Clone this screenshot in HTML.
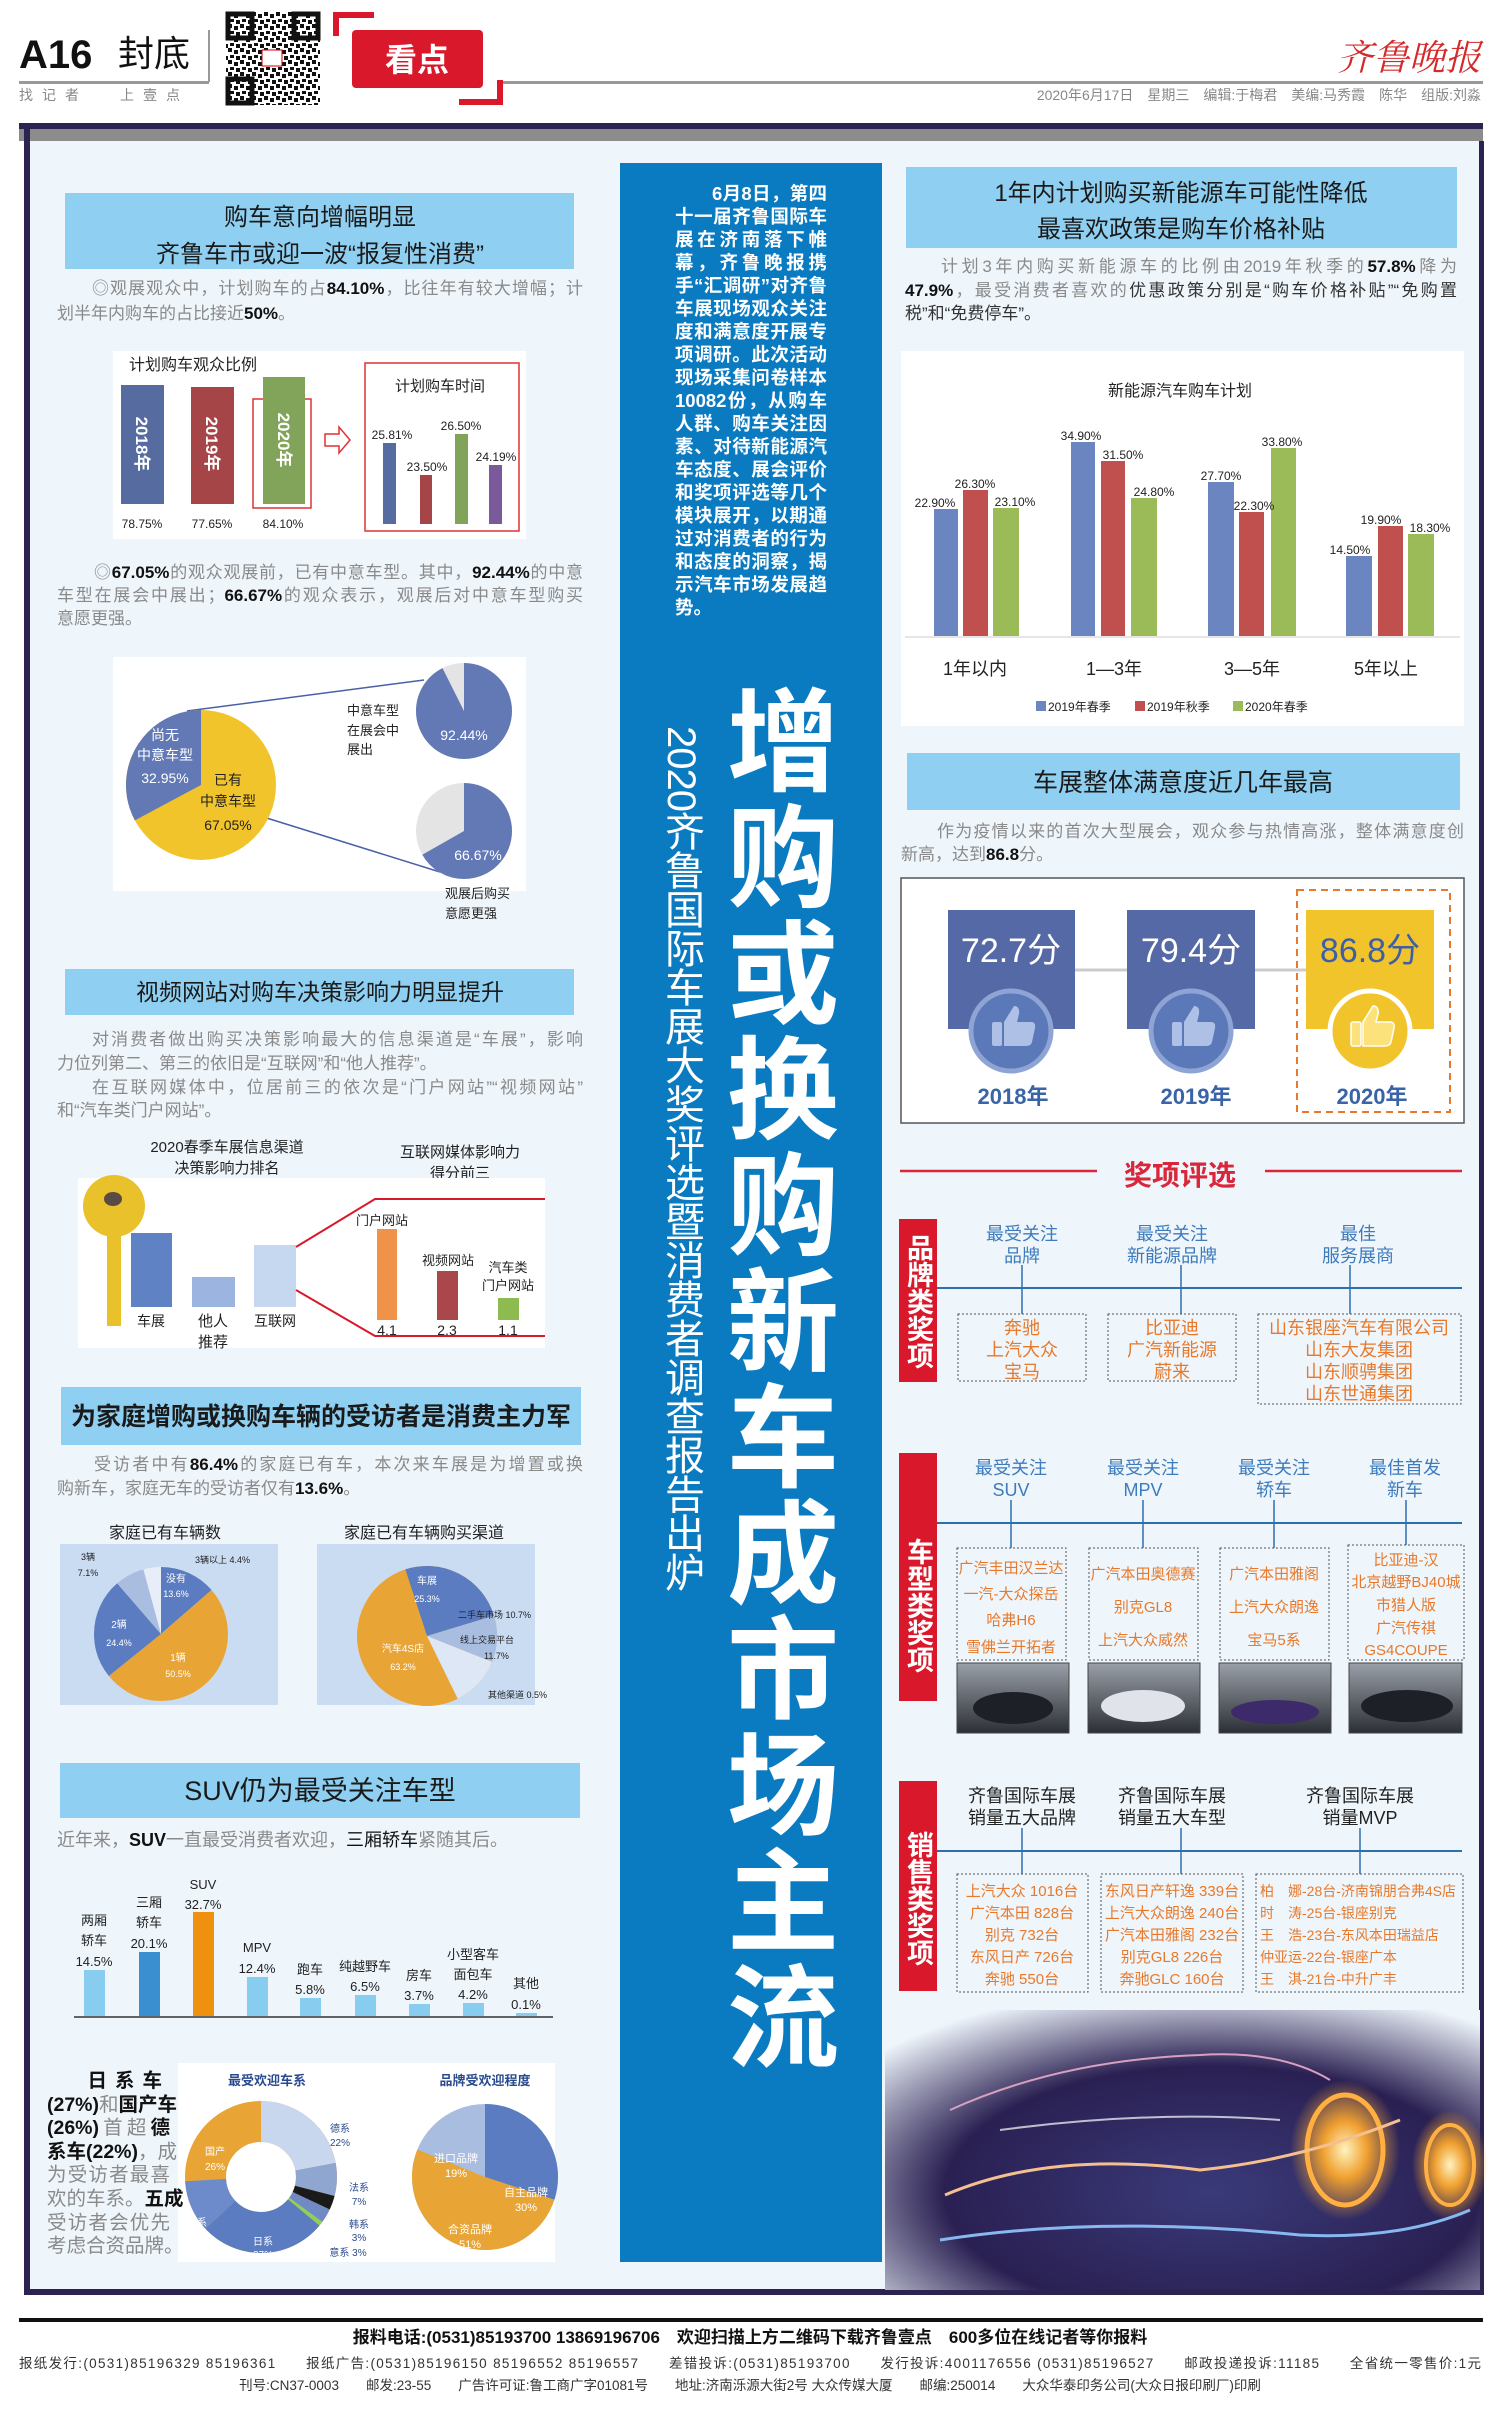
<!DOCTYPE html>
<html><head><meta charset="utf-8">
<style>
*{margin:0;padding:0;box-sizing:border-box}
body{width:1500px;height:2414px;background:#fff;position:relative;overflow:hidden;font-family:"Liberation Sans","Noto Sans CJK SC",sans-serif;}
.a{position:absolute}
.ln{position:absolute;text-align:justify;text-align-last:justify;white-space:nowrap;color:#8a8a8a;font-size:17px;line-height:22px;height:22px;overflow:visible}
.ln b{color:#111;font-weight:bold}
.ll{text-align-last:left}
.vt{position:absolute;writing-mode:vertical-rl;color:#fff;font-weight:bold;text-align:center}
</style></head><body>
<svg class="a" style="left:0;top:0" width="1500" height="2414" viewBox="0 0 1500 2414" font-family="Liberation Sans, Noto Sans CJK SC, sans-serif">
<defs>
<pattern id="qr" width="12" height="12" patternUnits="userSpaceOnUse">
<rect width="12" height="12" fill="#fff"/><rect x="0" y="0" width="4" height="4" fill="#111"/><rect x="6" y="2" width="4" height="4" fill="#111"/><rect x="2" y="7" width="4" height="3" fill="#111"/><rect x="8" y="8" width="4" height="4" fill="#111"/>
</pattern>
<radialGradient id="carbg" cx="0.55" cy="0.65" r="0.75">
<stop offset="0" stop-color="#3a3a7a"/><stop offset="0.6" stop-color="#2a2052"/><stop offset="1" stop-color="#eef5fb"/>
</radialGradient>
<radialGradient id="glow" cx="0.5" cy="0.5" r="0.5">
<stop offset="0" stop-color="#fff3c0"/><stop offset="0.4" stop-color="#f0a030"/><stop offset="1" stop-color="#f0a030" stop-opacity="0"/>
</radialGradient>
<linearGradient id="photo" x1="0" y1="0" x2="0" y2="1"><stop offset="0" stop-color="#9aa0a8"/><stop offset="1" stop-color="#2c2f36"/></linearGradient>
</defs>

<text x="19" y="68" font-size="40" font-weight="bold" fill="#111">A16</text>
<text x="118" y="66" font-size="36" fill="#111">封底</text>
<rect x="19" y="81" width="190" height="3" fill="#999"/>
<rect x="208" y="30" width="2" height="52" fill="#999"/>
<rect x="498" y="81" width="985" height="3" fill="#999"/>
<text x="19" y="100" font-size="14" fill="#888" letter-spacing="9">找记者</text>
<text x="120" y="100" font-size="14" fill="#888" letter-spacing="9">上壹点</text>
<rect x="226" y="12" width="94" height="93" fill="url(#qr)"/>
<rect x="228" y="14" width="24" height="24" fill="none" stroke="#111" stroke-width="5"/>
<rect x="294" y="14" width="24" height="24" fill="none" stroke="#111" stroke-width="5"/>
<rect x="228" y="79" width="24" height="24" fill="none" stroke="#111" stroke-width="5"/>
<rect x="262" y="50" width="20" height="16" fill="#fff" stroke="#c00" stroke-width="1"/>
<polyline points="336,36 336,15 374,15" fill="none" stroke="#d9182b" stroke-width="6"/>
<polyline points="459,102 500,102 500,80" fill="none" stroke="#d9182b" stroke-width="6"/>
<rect x="352" y="30" width="131" height="58" rx="4" fill="#d9182b"/>
<text x="417" y="71" font-size="32" font-weight="bold" fill="#fff" text-anchor="middle">看点</text>
<text x="1481" y="70" font-size="36" font-style="italic" fill="#d42a2a" text-anchor="end" font-family="Noto Serif CJK SC, serif">齐鲁晚报</text>
<text x="1481" y="100" font-size="14" fill="#888" text-anchor="end">2020年6月17日　星期三　编辑:于梅君　美编:马秀霞　陈华　组版:刘淼</text>

<rect x="19" y="123" width="1464" height="6" fill="#2d2350"/>
<rect x="19" y="129" width="1464" height="12" fill="#8c8c8c"/>
<rect x="24" y="141" width="1459" height="2150" fill="#eef5fb"/>
<rect x="24" y="123" width="6" height="2172" fill="#2d2350"/>
<rect x="1479" y="141" width="5" height="2154" fill="#2d2350"/>
<rect x="24" y="2289" width="1460" height="6" fill="#2d2350"/>

<rect x="885" y="2010" width="595" height="280" fill="url(#carbg)"/>
<ellipse cx="1345" cy="2150" rx="55" ry="70" fill="url(#glow)"/>
<ellipse cx="1345" cy="2150" rx="38" ry="55" fill="none" stroke="#ffb040" stroke-width="5"/>
<ellipse cx="1450" cy="2165" rx="38" ry="55" fill="url(#glow)"/>
<ellipse cx="1450" cy="2165" rx="24" ry="40" fill="none" stroke="#ffb040" stroke-width="4"/>
<path d="M945 2195 Q1050 2150 1200 2170 Q1300 2160 1400 2120" fill="none" stroke="#f4c090" stroke-width="3"/>
<path d="M950 2110 Q1060 2060 1200 2055 Q1280 2050 1330 2080" fill="none" stroke="#d8a0c0" stroke-width="2"/>
<path d="M940 2240 Q1100 2215 1300 2235 Q1400 2240 1470 2210" fill="none" stroke="#88b8f0" stroke-width="3"/>
<path d="M1000 2130 Q1150 2110 1280 2120" fill="none" stroke="#ffffff" stroke-width="2" opacity="0.7"/>

<rect x="620" y="163" width="262" height="2099" fill="#0b7bc1"/>

<rect x="65" y="193" width="509" height="76" fill="#8fd0f2"/>
<text x="320" y="225" font-size="24" text-anchor="middle" fill="#1a1a1a">购车意向增幅明显</text>
<text x="320" y="262" font-size="24" text-anchor="middle" fill="#1a1a1a">齐鲁车市或迎一波“报复性消费”</text>

<rect x="113" y="351" width="413" height="188" fill="#fff"/>
<text x="129" y="370" font-size="16" fill="#222">计划购车观众比例</text>
<rect x="121" y="385" width="43" height="119" fill="#566b9f"/>
<rect x="191" y="387" width="43" height="117" fill="#a64548"/>
<rect x="253" y="399" width="58" height="109" fill="none" stroke="#d33" stroke-width="1.5"/>
<rect x="263" y="377" width="42" height="127" fill="#82a35a"/>
<text transform="translate(136,444) rotate(90)" font-size="17" font-weight="bold" fill="#fff" text-anchor="middle">2018年</text>
<text transform="translate(206,444) rotate(90)" font-size="17" font-weight="bold" fill="#fff" text-anchor="middle">2019年</text>
<text transform="translate(278,440) rotate(90)" font-size="17" font-weight="bold" fill="#fff" text-anchor="middle">2020年</text>
<text x="142" y="528" font-size="12" text-anchor="middle" fill="#222">78.75%</text>
<text x="212" y="528" font-size="12" text-anchor="middle" fill="#222">77.65%</text>
<text x="283" y="528" font-size="12" text-anchor="middle" fill="#222">84.10%</text>
<path d="M325 434 h14 v-7 l11 13 l-11 13 v-7 h-14 z" fill="#fff" stroke="#d33" stroke-width="1.5"/>
<rect x="365" y="363" width="154" height="168" fill="#fff" stroke="#d33" stroke-width="1.5"/>
<text x="440" y="391" font-size="15" text-anchor="middle" fill="#222">计划购车时间</text>
<rect x="383" y="443" width="13" height="81" fill="#566b9f"/>
<rect x="420" y="475" width="12" height="49" fill="#a64548"/>
<rect x="455" y="434" width="13" height="90" fill="#82a35a"/>
<rect x="489" y="465" width="13" height="59" fill="#7a5a9a"/>
<text x="392" y="439" font-size="12" text-anchor="middle" fill="#222">25.81%</text>
<text x="427" y="471" font-size="12" text-anchor="middle" fill="#222">23.50%</text>
<text x="461" y="430" font-size="12" text-anchor="middle" fill="#222">26.50%</text>
<text x="496" y="461" font-size="12" text-anchor="middle" fill="#222">24.19%</text>

<rect x="113" y="657" width="413" height="234" fill="#fff"/>
<line x1="187" y1="711" x2="424" y2="680" stroke="#4a5fa8" stroke-width="1.5"/>
<line x1="257" y1="815" x2="440" y2="872" stroke="#4a5fa8" stroke-width="1.5"/>
<circle cx="201" cy="785" r="75" fill="#f2c42c"/>
<circle cx="201" cy="785" r="37.5" fill="none" stroke="#6379b6" stroke-width="75" stroke-dasharray="77.6 300" stroke-dashoffset="-158" transform="rotate(-90 201 785)"/>
<text x="165" y="740" font-size="14" fill="#fff" text-anchor="middle">尚无</text>
<text x="165" y="760" font-size="14" fill="#fff" text-anchor="middle">中意车型</text>
<text x="165" y="783" font-size="14" fill="#fff" text-anchor="middle">32.95%</text>
<text x="228" y="785" font-size="14" fill="#222" text-anchor="middle">已有</text>
<text x="228" y="806" font-size="14" fill="#222" text-anchor="middle">中意车型</text>
<text x="228" y="830" font-size="14" fill="#222" text-anchor="middle">67.05%</text>
<circle cx="464" cy="711" r="48" fill="#e4e4e4"/>
<circle cx="464" cy="711" r="24" fill="none" stroke="#6379b6" stroke-width="48" stroke-dasharray="139.4 200" transform="rotate(-90 464 711)"/>
<text x="464" y="740" font-size="14" fill="#fff" text-anchor="middle">92.44%</text>
<circle cx="464" cy="831" r="48" fill="#e4e4e4"/>
<circle cx="464" cy="831" r="24" fill="none" stroke="#6379b6" stroke-width="48" stroke-dasharray="100.5 200" transform="rotate(-90 464 831)"/>
<text x="478" y="860" font-size="14" fill="#fff" text-anchor="middle">66.67%</text>
<text x="347" y="715" font-size="13" fill="#222">中意车型</text>
<text x="347" y="735" font-size="13" fill="#222">在展会中</text>
<text x="347" y="754" font-size="13" fill="#222">展出</text>
<text x="445" y="898" font-size="13" fill="#222">观展后购买</text>
<text x="445" y="918" font-size="13" fill="#222">意愿更强</text>

<rect x="65" y="969" width="509" height="46" fill="#8fd0f2"/>
<text x="320" y="1000" font-size="23" text-anchor="middle" fill="#1a1a1a">视频网站对购车决策影响力明显提升</text>

<text x="227" y="1152" font-size="15" text-anchor="middle" fill="#222">2020春季车展信息渠道</text>
<text x="227" y="1173" font-size="15" text-anchor="middle" fill="#222">决策影响力排名</text>
<text x="460" y="1157" font-size="15" text-anchor="middle" fill="#222">互联网媒体影响力</text>
<text x="460" y="1178" font-size="15" text-anchor="middle" fill="#222">得分前三</text>
<rect x="78" y="1178" width="467" height="170" fill="#fff"/>
<rect x="107" y="1206" width="14" height="120" fill="#e9c12a"/>
<circle cx="114" cy="1206" r="31" fill="#e9c12a"/>
<ellipse cx="113" cy="1199" rx="9" ry="7" fill="#5a4a45"/>
<rect x="131" y="1233" width="41" height="74" fill="#5f82c4"/>
<rect x="192" y="1277" width="43" height="30" fill="#9cb4e0"/>
<rect x="254" y="1245" width="42" height="62" fill="#c5d8f0"/>
<text x="151" y="1326" font-size="14" text-anchor="middle" fill="#222">车展</text>
<text x="213" y="1326" font-size="15" text-anchor="middle" fill="#222">他人</text>
<text x="213" y="1347" font-size="15" text-anchor="middle" fill="#222">推荐</text>
<text x="275" y="1326" font-size="14" text-anchor="middle" fill="#222">互联网</text>
<polyline points="296,1247 375,1199 545,1199" fill="none" stroke="#d9182b" stroke-width="2"/>
<polyline points="296,1290 375,1336 545,1336" fill="none" stroke="#d9182b" stroke-width="2"/>
<rect x="377" y="1229" width="20" height="91" fill="#f0924a"/>
<rect x="437" y="1271" width="21" height="49" fill="#a9474b"/>
<rect x="498" y="1298" width="21" height="22" fill="#8dbb4f"/>
<text x="382" y="1225" font-size="13" text-anchor="middle" fill="#222">门户网站</text>
<text x="448" y="1265" font-size="13" text-anchor="middle" fill="#222">视频网站</text>
<text x="508" y="1272" font-size="13" text-anchor="middle" fill="#222">汽车类</text>
<text x="508" y="1290" font-size="13" text-anchor="middle" fill="#222">门户网站</text>
<text x="387" y="1335" font-size="14" text-anchor="middle" fill="#222">4.1</text>
<text x="447" y="1335" font-size="14" text-anchor="middle" fill="#222">2.3</text>
<text x="508" y="1335" font-size="14" text-anchor="middle" fill="#222">1.1</text>

<rect x="61" y="1387" width="520" height="58" fill="#8fd0f2"/>
<text x="321" y="1425" font-size="25" font-weight="bold" text-anchor="middle" fill="#1a1a1a">为家庭增购或换购车辆的受访者是消费主力军</text>

<text x="165" y="1538" font-size="16" text-anchor="middle" fill="#222">家庭已有车辆数</text>
<text x="424" y="1538" font-size="16" text-anchor="middle" fill="#222">家庭已有车辆购买渠道</text>
<rect x="60" y="1544" width="218" height="161" fill="#c9dcf2"/>
<rect x="317" y="1544" width="218" height="161" fill="#c9dcf2"/>
<g transform="rotate(-90 161 1634)" fill="none" stroke-width="67">
<circle cx="161" cy="1634" r="33.5" stroke="#e8eef8"/>
<circle cx="161" cy="1634" r="33.5" stroke="#5b7cc0" stroke-dasharray="28.6 300"/>
<circle cx="161" cy="1634" r="33.5" stroke="#e8a535" stroke-dasharray="106.3 300" stroke-dashoffset="-28.6"/>
<circle cx="161" cy="1634" r="33.5" stroke="#5b7cc0" stroke-dasharray="51.4 300" stroke-dashoffset="-134.9"/>
<circle cx="161" cy="1634" r="33.5" stroke="#a9bde0" stroke-dasharray="14.9 300" stroke-dashoffset="-186.3"/>
</g>
<text x="176" y="1582" font-size="10" fill="#fff" text-anchor="middle">没有</text>
<text x="176" y="1597" font-size="9" fill="#fff" text-anchor="middle">13.6%</text>
<text x="119" y="1628" font-size="10" fill="#fff" text-anchor="middle">2辆</text>
<text x="119" y="1646" font-size="9" fill="#fff" text-anchor="middle">24.4%</text>
<text x="178" y="1661" font-size="10" fill="#fff" text-anchor="middle">1辆</text>
<text x="178" y="1677" font-size="9" fill="#fff" text-anchor="middle">50.5%</text>
<text x="88" y="1560" font-size="9" fill="#222" text-anchor="middle">3辆</text>
<text x="88" y="1576" font-size="9" fill="#222" text-anchor="middle">7.1%</text>
<text x="195" y="1563" font-size="9" fill="#222">3辆以上 4.4%</text>
<g transform="rotate(-108 427 1636)" fill="none" stroke-width="70">
<circle cx="427" cy="1636" r="35" stroke="#e8a535"/>
<circle cx="427" cy="1636" r="35" stroke="#5b7cc0" stroke-dasharray="55.6 300"/>
<circle cx="427" cy="1636" r="35" stroke="#a9bde0" stroke-dasharray="23.5 300" stroke-dashoffset="-55.6"/>
<circle cx="427" cy="1636" r="35" stroke="#dde7f5" stroke-dasharray="25.7 300" stroke-dashoffset="-79.1"/>
</g>
<text x="427" y="1584" font-size="10" fill="#fff" text-anchor="middle">车展</text>
<text x="427" y="1602" font-size="9" fill="#fff" text-anchor="middle">25.3%</text>
<text x="403" y="1652" font-size="10" fill="#fff" text-anchor="middle">汽车4S店</text>
<text x="403" y="1670" font-size="9" fill="#fff" text-anchor="middle">63.2%</text>
<text x="458" y="1618" font-size="9" fill="#222">二手车市场 10.7%</text>
<text x="460" y="1643" font-size="9" fill="#222">线上交易平台</text>
<text x="484" y="1659" font-size="9" fill="#222">11.7%</text>
<text x="488" y="1698" font-size="9" fill="#222">其他渠道 0.5%</text>

<rect x="60" y="1763" width="520" height="55" fill="#8fd0f2"/>
<text x="320" y="1800" font-size="27" text-anchor="middle" fill="#1a1a1a">SUV仍为最受关注车型</text>
<line x1="74" y1="2017" x2="553" y2="2017" stroke="#333" stroke-width="1.5"/>
<g fill="#88cdf0">
<rect x="84" y="1970" width="21" height="46"/>
<rect x="193" y="1912" width="21" height="104" fill="#f0900f"/>
<rect x="139" y="1952" width="21" height="64" fill="#3a8fd0"/>
<rect x="247" y="1977" width="21" height="39"/>
<rect x="300" y="1998" width="21" height="18"/>
<rect x="355" y="1995" width="21" height="21"/>
<rect x="409" y="2004" width="21" height="12"/>
<rect x="463" y="2003" width="21" height="13"/>
<rect x="516" y="2013" width="21" height="3"/>
</g>
<g font-size="13" fill="#222" text-anchor="middle">
<text x="94" y="1925">两厢</text><text x="94" y="1945">轿车</text><text x="94" y="1966">14.5%</text>
<text x="149" y="1907">三厢</text><text x="149" y="1927">轿车</text><text x="149" y="1948">20.1%</text>
<text x="203" y="1889">SUV</text><text x="203" y="1909">32.7%</text>
<text x="257" y="1952">MPV</text><text x="257" y="1973">12.4%</text>
<text x="310" y="1974">跑车</text><text x="310" y="1994">5.8%</text>
<text x="365" y="1971">纯越野车</text><text x="365" y="1991">6.5%</text>
<text x="419" y="1980">房车</text><text x="419" y="2000">3.7%</text>
<text x="473" y="1959">小型客车</text><text x="473" y="1979">面包车</text><text x="473" y="1999">4.2%</text>
<text x="526" y="1988">其他</text><text x="526" y="2009">0.1%</text>
</g>

<rect x="178" y="2063" width="377" height="199" fill="#fff"/>
<text x="267" y="2085" font-size="13" font-weight="bold" text-anchor="middle" fill="#2a4a8f">最受欢迎车系</text>
<text x="485" y="2085" font-size="13" font-weight="bold" text-anchor="middle" fill="#2a4a8f">品牌受欢迎程度</text>
<g transform="rotate(-90 261 2177)" fill="none" stroke-width="41">
<circle cx="261" cy="2177" r="55.5" stroke="#e8a535"/>
<circle cx="261" cy="2177" r="55.5" stroke="#c8d7ee" stroke-dasharray="76.7 400"/>
<circle cx="261" cy="2177" r="55.5" stroke="#8fa6d0" stroke-dasharray="24.4 400" stroke-dashoffset="-76.7"/>
<circle cx="261" cy="2177" r="55.5" stroke="#1a1a1a" stroke-dasharray="10.5 400" stroke-dashoffset="-101.1"/>
<circle cx="261" cy="2177" r="55.5" stroke="#6f8ac4" stroke-dasharray="10.5 400" stroke-dashoffset="-111.6"/>
<circle cx="261" cy="2177" r="55.5" stroke="#8fcf5a" stroke-dasharray="3.5 400" stroke-dashoffset="-122.1"/>
<circle cx="261" cy="2177" r="55.5" stroke="#5b7cc0" stroke-dasharray="94.1 400" stroke-dashoffset="-125.6"/>
<circle cx="261" cy="2177" r="55.5" stroke="#6d8bcb" stroke-dasharray="38.4 400" stroke-dashoffset="-219.7"/>
</g>
<g font-size="10" fill="#fff" text-anchor="middle">
<text x="215" y="2155">国产</text><text x="215" y="2170">26%</text>
<text x="197" y="2226">美系</text><text x="197" y="2240">11%</text>
<text x="263" y="2245">日系</text><text x="263" y="2258">27%</text>
</g>
<g font-size="10" fill="#2a4a8f" text-anchor="middle">
<text x="340" y="2132">德系</text><text x="340" y="2146">22%</text>
<text x="359" y="2191">法系</text><text x="359" y="2205">7%</text>
<text x="359" y="2228">韩系</text><text x="359" y="2241">3%</text>
<text x="348" y="2256">意系 3%</text>
</g>
<g transform="rotate(-90 485 2177)" fill="none" stroke-width="73">
<circle cx="485" cy="2177" r="36.5" stroke="#a9bde0"/>
<circle cx="485" cy="2177" r="36.5" stroke="#5b7cc0" stroke-dasharray="68.8 300"/>
<circle cx="485" cy="2177" r="36.5" stroke="#e8a535" stroke-dasharray="117 300" stroke-dashoffset="-68.8"/>
</g>
<g font-size="11" fill="#fff" text-anchor="middle">
<text x="456" y="2162">进口品牌</text><text x="456" y="2177">19%</text>
<text x="526" y="2196">自主品牌</text><text x="526" y="2211">30%</text>
<text x="470" y="2233">合资品牌</text><text x="470" y="2248">51%</text>
</g>

<rect x="906" y="167" width="551" height="81" fill="#8fd0f2"/>
<text x="1181" y="201" font-size="24" text-anchor="middle" fill="#1a1a1a">1年内计划购买新能源车可能性降低</text>
<text x="1181" y="237" font-size="24" text-anchor="middle" fill="#1a1a1a">最喜欢政策是购车价格补贴</text>

<rect x="901" y="351" width="563" height="375" fill="#fff"/>
<text x="1180" y="396" font-size="16" text-anchor="middle" fill="#222">新能源汽车购车计划</text>
<line x1="905" y1="637" x2="1460" y2="637" stroke="#ddd" stroke-width="1.5"/>
<g>
<rect x="934" y="509" width="24" height="127" fill="#6a85bf"/><rect x="963" y="490" width="25" height="146" fill="#c0504d"/><rect x="993" y="508" width="26" height="128" fill="#9bbb59"/>
<rect x="1071" y="442" width="24" height="194" fill="#6a85bf"/><rect x="1101" y="461" width="24" height="175" fill="#c0504d"/><rect x="1131" y="498" width="26" height="138" fill="#9bbb59"/>
<rect x="1208" y="482" width="26" height="154" fill="#6a85bf"/><rect x="1239" y="512" width="25" height="124" fill="#c0504d"/><rect x="1271" y="448" width="25" height="188" fill="#9bbb59"/>
<rect x="1346" y="556" width="26" height="80" fill="#6a85bf"/><rect x="1378" y="526" width="25" height="110" fill="#c0504d"/><rect x="1408" y="534" width="26" height="102" fill="#9bbb59"/>
</g>
<g font-size="12" fill="#222" text-anchor="middle">
<text x="935" y="507">22.90%</text><text x="975" y="488">26.30%</text><text x="1015" y="506">23.10%</text>
<text x="1081" y="440">34.90%</text><text x="1123" y="459">31.50%</text><text x="1154" y="496">24.80%</text>
<text x="1221" y="480">27.70%</text><text x="1254" y="510">22.30%</text><text x="1282" y="446">33.80%</text>
<text x="1350" y="554">14.50%</text><text x="1381" y="524">19.90%</text><text x="1430" y="532">18.30%</text>
</g>
<g font-size="18" fill="#222" text-anchor="middle">
<text x="975" y="675">1年以内</text><text x="1114" y="675">1—3年</text><text x="1252" y="675">3—5年</text><text x="1386" y="675">5年以上</text>
</g>
<rect x="1036" y="701" width="10" height="10" fill="#6a85bf"/><text x="1048" y="711" font-size="12" fill="#222">2019年春季</text>
<rect x="1135" y="701" width="10" height="10" fill="#c0504d"/><text x="1147" y="711" font-size="12" fill="#222">2019年秋季</text>
<rect x="1233" y="701" width="10" height="10" fill="#9bbb59"/><text x="1245" y="711" font-size="12" fill="#222">2020年春季</text>

<rect x="907" y="753" width="553" height="57" fill="#8fd0f2"/>
<text x="1183" y="791" font-size="25" text-anchor="middle" fill="#1a1a1a">车展整体满意度近几年最高</text>
<rect x="901" y="878" width="563" height="245" fill="#fff" stroke="#555" stroke-width="1.5"/>
<line x1="1075" y1="970" x2="1306" y2="970" stroke="#ccc" stroke-width="3"/>
<rect x="948" y="910" width="127" height="119" fill="#5569a6"/>
<rect x="1127" y="910" width="128" height="119" fill="#5569a6"/>
<rect x="1297" y="890" width="153" height="222" fill="none" stroke="#e8792a" stroke-width="2" stroke-dasharray="7 5"/>
<rect x="1306" y="910" width="128" height="119" fill="#f2c42c"/>
<text x="1011" y="962" font-size="34" fill="#fff" text-anchor="middle">72.7分</text>
<text x="1191" y="962" font-size="34" fill="#fff" text-anchor="middle">79.4分</text>
<text x="1370" y="962" font-size="34" fill="#3d5fa8" text-anchor="middle">86.8分</text>
<circle cx="1011" cy="1031" r="40" fill="#5b78b8" stroke="#8ea4d4" stroke-width="5"/>
<circle cx="1191" cy="1031" r="40" fill="#5b78b8" stroke="#8ea4d4" stroke-width="5"/>
<circle cx="1370" cy="1031" r="40" fill="#f2c42c" stroke="#fff" stroke-width="5"/>
<g fill="#aec0e6"><rect x="992" y="1022" width="10" height="24" rx="2"/><path d="M1004 1046 v-24 l10 -16 q6 0 5 8 l-2 8 h14 q5 0 4 6 l-3 14 q-1 4 -6 4 z"/></g>
<g fill="#aec0e6"><rect x="1172" y="1022" width="10" height="24" rx="2"/><path d="M1184 1046 v-24 l10 -16 q6 0 5 8 l-2 8 h14 q5 0 4 6 l-3 14 q-1 4 -6 4 z"/></g>
<g fill="#fbe27a" stroke="#fff" stroke-width="1.5"><rect x="1351" y="1022" width="10" height="24" rx="2"/><path d="M1363 1046 v-24 l10 -16 q6 0 5 8 l-2 8 h14 q5 0 4 6 l-3 14 q-1 4 -6 4 z"/></g>
<g font-size="22" font-weight="bold" fill="#3a63a8" text-anchor="middle">
<text x="1013" y="1104">2018年</text><text x="1196" y="1104">2019年</text><text x="1372" y="1104">2020年</text>
</g>

<line x1="900" y1="1171" x2="1097" y2="1171" stroke="#d9263a" stroke-width="2.5"/>
<line x1="1265" y1="1171" x2="1462" y2="1171" stroke="#d9263a" stroke-width="2.5"/>
<text x="1180" y="1185" font-size="28" font-weight="bold" text-anchor="middle" fill="#d9263a">奖项评选</text>
<rect x="899" y="1219" width="38" height="163" fill="#d9182b"/>
<rect x="899" y="1453" width="38" height="248" fill="#d9182b"/>
<rect x="899" y="1781" width="38" height="210" fill="#d9182b"/>
<line x1="937" y1="1288" x2="1462" y2="1288" stroke="#2e6fb0" stroke-width="2"/>
<line x1="937" y1="1523" x2="1462" y2="1523" stroke="#2e6fb0" stroke-width="2"/>
<line x1="937" y1="1851" x2="1462" y2="1851" stroke="#2e6fb0" stroke-width="2"/>
<g stroke="#2e6fb0" stroke-width="1.5">
<line x1="1022" y1="1265" x2="1022" y2="1314"/><line x1="1181" y1="1265" x2="1181" y2="1314"/><line x1="1350" y1="1265" x2="1350" y2="1314"/>
<line x1="1011" y1="1500" x2="1011" y2="1548"/><line x1="1143" y1="1500" x2="1143" y2="1548"/><line x1="1274" y1="1500" x2="1274" y2="1548"/><line x1="1406" y1="1500" x2="1406" y2="1545"/>
<line x1="1022" y1="1828" x2="1022" y2="1874"/><line x1="1181" y1="1828" x2="1181" y2="1874"/><line x1="1360" y1="1828" x2="1360" y2="1874"/>
</g>
<g fill="none" stroke="#555" stroke-width="1" stroke-dasharray="2 2">
<rect x="958" y="1314" width="128" height="67"/><rect x="1108" y="1314" width="128" height="67"/><rect x="1258" y="1314" width="203" height="90"/>
<rect x="957" y="1548" width="109" height="112"/><rect x="1089" y="1548" width="109" height="112"/><rect x="1220" y="1548" width="109" height="112"/><rect x="1348" y="1545" width="116" height="115"/>
<rect x="957" y="1874" width="131" height="118"/><rect x="1101" y="1874" width="142" height="118"/><rect x="1256" y="1874" width="207" height="118"/>
</g>
<g fill="url(#photo)" stroke="#444" stroke-width="1">
<rect x="957" y="1663" width="112" height="70"/><rect x="1088" y="1663" width="112" height="70"/><rect x="1219" y="1663" width="112" height="70"/><rect x="1349" y="1663" width="113" height="70"/>
</g>
<g fill="#e0e4ea"><ellipse cx="1143" cy="1706" rx="42" ry="16"/></g>
<g fill="#1e2028"><ellipse cx="1013" cy="1708" rx="40" ry="16"/><ellipse cx="1407" cy="1706" rx="46" ry="16"/></g>
<g fill="#3d2a6a"><ellipse cx="1275" cy="1712" rx="44" ry="12"/></g>

<g font-size="18" fill="#3d7bbd" text-anchor="middle">
<text x="1022" y="1240">最受关注</text><text x="1022" y="1262">品牌</text>
<text x="1172" y="1240">最受关注</text><text x="1172" y="1262">新能源品牌</text>
<text x="1358" y="1240">最佳</text><text x="1358" y="1262">服务展商</text>
<text x="1011" y="1474">最受关注</text><text x="1011" y="1496">SUV</text>
<text x="1143" y="1474">最受关注</text><text x="1143" y="1496">MPV</text>
<text x="1274" y="1474">最受关注</text><text x="1274" y="1496">轿车</text>
<text x="1405" y="1474">最佳首发</text><text x="1405" y="1496">新车</text>
</g>
<g font-size="18" fill="#222" text-anchor="middle">
<text x="1022" y="1802">齐鲁国际车展</text><text x="1022" y="1824">销量五大品牌</text>
<text x="1172" y="1802">齐鲁国际车展</text><text x="1172" y="1824">销量五大车型</text>
<text x="1360" y="1802">齐鲁国际车展</text><text x="1360" y="1824">销量MVP</text>
</g>
<g font-size="18" fill="#e8792a" text-anchor="middle">
<text x="1022" y="1334">奔驰</text><text x="1022" y="1356">上汽大众</text><text x="1022" y="1378">宝马</text>
<text x="1172" y="1334">比亚迪</text><text x="1172" y="1356">广汽新能源</text><text x="1172" y="1378">蔚来</text>
<text x="1359" y="1334">山东银座汽车有限公司</text><text x="1359" y="1356">山东大友集团</text><text x="1359" y="1378">山东顺骋集团</text><text x="1359" y="1400">山东世通集团</text>
</g>
<g font-size="15" fill="#e8792a" text-anchor="middle">
<text x="1011" y="1573">广汽丰田汉兰达</text><text x="1011" y="1599">一汽-大众探岳</text><text x="1011" y="1625">哈弗H6</text><text x="1011" y="1652">雪佛兰开拓者</text>
<text x="1143" y="1579">广汽本田奥德赛</text><text x="1143" y="1612">别克GL8</text><text x="1143" y="1645">上汽大众威然</text>
<text x="1274" y="1579">广汽本田雅阁</text><text x="1274" y="1612">上汽大众朗逸</text><text x="1274" y="1645">宝马5系</text>
<text x="1406" y="1565">比亚迪-汉</text><text x="1406" y="1587">北京越野BJ40城</text><text x="1406" y="1610">市猎人版</text><text x="1406" y="1633">广汽传祺</text><text x="1406" y="1655">GS4COUPE</text>
</g>
<g font-size="15" fill="#e8792a" text-anchor="middle">
<text x="1022" y="1896">上汽大众 1016台</text><text x="1022" y="1918">广汽本田 828台</text><text x="1022" y="1940">别克 732台</text><text x="1022" y="1962">东风日产 726台</text><text x="1022" y="1984">奔驰 550台</text>
<text x="1172" y="1896">东风日产轩逸 339台</text><text x="1172" y="1918">上汽大众朗逸 240台</text><text x="1172" y="1940">广汽本田雅阁 232台</text><text x="1172" y="1962">别克GL8 226台</text><text x="1172" y="1984">奔驰GLC 160台</text>
</g>
<g font-size="14" fill="#e8792a">
<text x="1260" y="1896">柏　娜-28台-济南锦朋合弗4S店</text><text x="1260" y="1918">时　涛-25台-银座别克</text><text x="1260" y="1940">王　浩-23台-东风本田瑞益店</text><text x="1260" y="1962">仲亚运-22台-银座广本</text><text x="1260" y="1984">王　淇-21台-中升广丰</text>
</g>

<rect x="19" y="2318" width="1464" height="4" fill="#111"/>
<text x="750" y="2343" font-size="17" font-weight="bold" text-anchor="middle" fill="#111">报料电话:(0531)85193700 13869196706　欢迎扫描上方二维码下载齐鲁壹点　600多位在线记者等你报料</text>
<text x="19" y="2368" font-size="13.5" fill="#333" textLength="1462" lengthAdjust="spacing">报纸发行:(0531)85196329 85196361　　报纸广告:(0531)85196150 85196552 85196557　　差错投诉:(0531)85193700　　发行投诉:4001176556 (0531)85196527　　邮政投递投诉:11185　　全省统一零售价:1元</text>
<text x="750" y="2390" font-size="13.5" fill="#333" text-anchor="middle">刊号:CN37-0003　　邮发:23-55　　广告许可证:鲁工商广字01081号　　地址:济南泺源大街2号 大众传媒大厦　　邮编:250014　　大众华泰印务公司(大众日报印刷厂)印刷</text>
</svg>

<div class="a" style="left:675px;top:182px;width:152px;color:#fff;font-size:18.5px;line-height:23px;font-weight:bold;text-align:justify;text-indent:2em;font-family:'Liberation Sans','Noto Sans CJK SC',sans-serif">6月8日，第四十一届齐鲁国际车展在济南落下帷幕，齐鲁晚报携手“汇调研”对齐鲁车展现场观众关注度和满意度开展专项调研。此次活动现场采集问卷样本10082份，从购车人群、购车关注因素、对待新能源汽车态度、展会评价和奖项评选等几个模块展开，以期通过对消费者的行为和态度的洞察，揭示汽车市场发展趋势。</div>
<div class="vt" style="left:660px;top:678px;font-size:40px;line-height:42px;width:42px;height:960px;font-weight:normal;letter-spacing:-1px">2020齐鲁国际车展大奖评选暨消费者调查报告出炉</div>
<div class="a" style="left:724px;top:676px;width:118px;color:#fff;font-size:112px;line-height:116px;font-weight:bold;text-align:center;font-family:'Noto Sans CJK SC',sans-serif">增<br>购<br>或<br>换<br>购<br>新<br>车<br>成<br>市<br>场<br>主<br>流</div>

<div class="ln" style="left:92px;top:278px;width:491px">◎观展观众中，计划购车的占<b>84.10%</b>，比往年有较大增幅；计</div>
<div class="ln ll" style="left:57px;top:303px;width:526px">划半年内购车的占比接近<b>50%</b>。</div>
<div class="ln" style="left:94px;top:562px;width:489px">◎<b>67.05%</b>的观众观展前，已有中意车型。其中，<b>92.44%</b>的中意</div>
<div class="ln" style="left:57px;top:585px;width:526px">车型在展会中展出；<b>66.67%</b>的观众表示，观展后对中意车型购买</div>
<div class="ln ll" style="left:57px;top:608px;width:526px">意愿更强。</div>
<div class="ln" style="left:92px;top:1029px;width:491px">对消费者做出购买决策影响最大的信息渠道是“车展”，影响</div>
<div class="ln ll" style="left:57px;top:1053px;width:526px">力位列第二、第三的依旧是“互联网”和“他人推荐”。</div>
<div class="ln" style="left:92px;top:1077px;width:491px">在互联网媒体中，位居前三的依次是“门户网站”“视频网站”</div>
<div class="ln ll" style="left:57px;top:1100px;width:526px">和“汽车类门户网站”。</div>
<div class="ln" style="left:94px;top:1454px;width:489px">受访者中有<b>86.4%</b>的家庭已有车，本次来车展是为增置或换</div>
<div class="ln ll" style="left:57px;top:1478px;width:526px">购新车，家庭无车的受访者仅有<b>13.6%</b>。</div>
<div class="ln ll" style="left:57px;top:1829px;width:526px;font-size:18px">近年来，<b>SUV</b>一直最受消费者欢迎，<b style="font-weight:normal">三厢轿车</b>紧随其后。</div>
<div class="ln" style="left:941px;top:256px;width:516px">计划3年内购买新能源车的比例由2019年秋季的<b>57.8%</b>降为</div>
<div class="ln" style="left:905px;top:280px;width:552px"><b>47.9%</b>，最受消费者喜欢的<span style="color:#333">优惠政策分别是“购车价格补贴”“免购置</span></div>
<div class="ln ll" style="left:905px;top:303px;width:552px;color:#333">税”和“免费停车”。</div>
<div class="ln" style="left:937px;top:821px;width:527px">作为疫情以来的首次大型展会，观众参与热情高涨，整体满意度创</div>
<div class="ln ll" style="left:901px;top:844px;width:563px">新高，达到<b>86.8</b>分。</div>
<div class="a" style="left:47px;top:2070px;width:123px;font-size:19.5px;line-height:23.6px;color:#8a8a8a">
<div style="text-align:right;color:#111;font-weight:bold;letter-spacing:8px">日系车</div>
<div style="text-align:justify;text-align-last:justify;white-space:nowrap"><b style="color:#111">(27%)</b>和<b style="color:#111">国产车</b></div>
<div style="text-align:justify;text-align-last:justify;white-space:nowrap"><b style="color:#111">(26%)</b>首超<b style="color:#111">德</b></div>
<div style="text-align:justify;text-align-last:justify;white-space:nowrap"><b style="color:#111">系车(22%)</b>，成</div>
<div style="text-align:justify;text-align-last:justify;white-space:nowrap">为受访者最喜</div>
<div style="text-align:justify;text-align-last:justify;white-space:nowrap">欢的车系。<b style="color:#111">五成</b></div>
<div style="text-align:justify;text-align-last:justify;white-space:nowrap">受访者会优先</div>
<div style="text-align:justify;text-align-last:justify;white-space:nowrap">考虑合资品牌。</div>
</div>
<div class="vt" style="left:899px;top:1222px;width:38px;height:158px;font-size:27px;line-height:38px">品牌类奖项</div>
<div class="vt" style="left:899px;top:1520px;width:38px;height:170px;font-size:27px;line-height:38px">车型类奖项</div>
<div class="vt" style="left:899px;top:1818px;width:38px;height:160px;font-size:27px;line-height:38px">销售类奖项</div>
</body></html>
